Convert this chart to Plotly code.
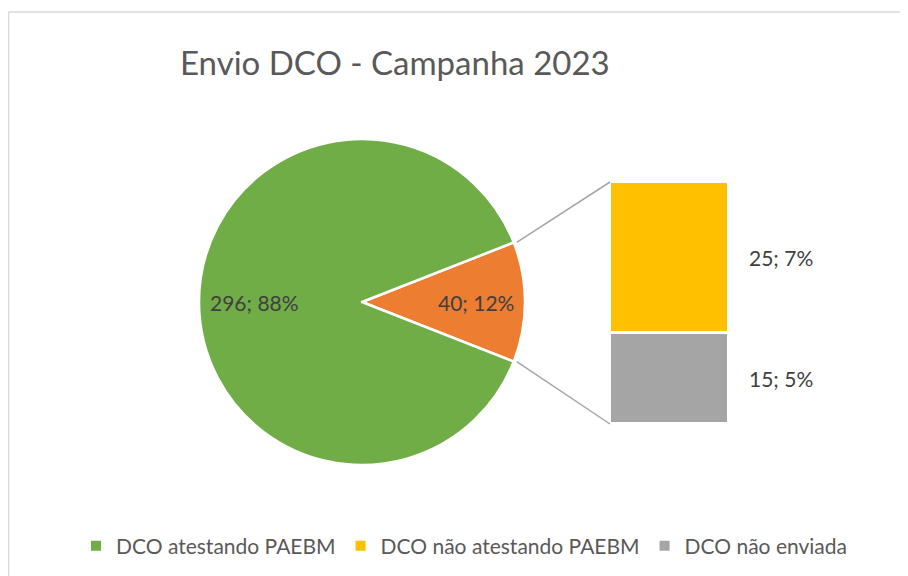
import math
import plotly.graph_objects as go

# ---- data ----
title_text = "Envio DCO - Campanha 2023"
pie_labels = ["DCO atestando PAEBM", "DCO não atestando PAEBM (total)"]
pie_values = [296, 40]
pie_pct_labels = ["88%", "12%"]
pie_colors = ["#70AD47", "#ED7D31"]

bar_labels = ["DCO não enviada", "DCO não atestando PAEBM"]   # bottom to top
bar_values = [15, 25]
bar_pct_labels = ["5%", "7%"]
bar_colors = ["#A5A5A5", "#FFC000"]

legend_labels = ["DCO atestando PAEBM", "DCO não atestando PAEBM", "DCO não enviada"]
legend_colors = ["#70AD47", "#FFC000", "#A5A5A5"]

# page has an 8px body margin: figure is drawn at (8, 8)
OFF = 8
W, H = 900, 568
FONT = "Lato, 'Open Sans', sans-serif"


def PX(x):
    return (x - OFF) / W


def PY(y):
    return 1 - (y - OFF) / H


total = sum(pie_values)

# pie geometry (screen pixels)
cx, cy, R = 362, 302, 163
pie_dom_x = [PX(cx - R), PX(cx + R)]
pie_dom_y = [PY(cy + R), PY(cy - R)]

# bar geometry (screen pixels)
bx0, bx1, by_top, by_bot = 610, 729, 182, 424
bar_dom_x = [PX(bx0), PX(bx1)]
bar_dom_y = [PY(by_bot), PY(by_top)]

small_frac = pie_values[1] / total
half_ang = 360 * small_frac / 2  # degrees

fig = go.Figure()

# pie: small slice first, clockwise, centred at 3 o'clock
fig.add_trace(go.Pie(
    labels=pie_labels[::-1], values=pie_values[::-1],
    marker=dict(colors=pie_colors[::-1], line=dict(color="white", width=2.5)),
    sort=False, direction="clockwise", rotation=90 - half_ang,
    textinfo="none", hoverinfo="label+value+percent",
    domain=dict(x=pie_dom_x, y=pie_dom_y), showlegend=False,
))

# stacked bar of the small slice
for lab, val, col in zip(bar_labels, bar_values, bar_colors):
    fig.add_trace(go.Bar(
        x=["x"], y=[val], name=lab, marker=dict(color=col, line=dict(color="white", width=3)),
        width=1, showlegend=False, hoverinfo="name+y",
    ))

# legend entries
for lab, col in zip(legend_labels, legend_colors):
    fig.add_trace(go.Scatter(
        x=[None], y=[None], mode="markers", name=lab,
        marker=dict(symbol="square", size=10, color=col), showlegend=True,
    ))

fig.update_layout(
    barmode="stack", bargap=0,
    width=W, height=H, margin=dict(l=0, r=0, t=0, b=0),
    paper_bgcolor="white", plot_bgcolor="rgba(0,0,0,0)",
    xaxis=dict(domain=bar_dom_x, range=[-0.5, 0.5], visible=False, fixedrange=True),
    yaxis=dict(domain=bar_dom_y, range=[0, sum(bar_values)], visible=False, fixedrange=True),
    showlegend=True,
    legend=dict(orientation="h", x=PX(464), xanchor="center", y=PY(546), yanchor="middle",
                font=dict(family=FONT, size=21, color="#595959"), itemwidth=30,
                traceorder="normal", bgcolor="rgba(0,0,0,0)"),
    font=dict(family=FONT, color="#404040"),
)

# title
fig.add_annotation(text=title_text, xref="paper", yref="paper", x=PX(395), y=PY(62),
                   xanchor="center", yanchor="middle", showarrow=False,
                   font=dict(family=FONT, size=33, color="#595959"))

# pie labels: big slice centred at 9 o'clock, small at 3 o'clock
fig.add_annotation(text=f"{pie_values[0]}; {pie_pct_labels[0]}", xref="paper", yref="paper",
                   x=PX(cx - 0.66 * R), y=PY(cy), xanchor="center", yanchor="middle",
                   showarrow=False, font=dict(family=FONT, size=21, color="#404040"))
fig.add_annotation(text=f"{pie_values[1]}; {pie_pct_labels[1]}", xref="paper", yref="paper",
                   x=PX(cx + 0.70 * R), y=PY(cy), xanchor="center", yanchor="middle",
                   showarrow=False, font=dict(family=FONT, size=21, color="#404040"))

# bar labels
cum = 0
for val, p in zip(bar_values, bar_pct_labels):
    fig.add_annotation(text=f"{val}; {p}", x=0.5, y=cum + val / 2, xref="x", yref="y",
                       xanchor="left", yanchor="middle", xshift=18, showarrow=False,
                       font=dict(family=FONT, size=21, color="#404040"))
    cum += val

# connector lines from small slice edges to bar corners
a = math.radians(half_ang)
ex = cx + R * math.cos(a)
ey_top = cy - R * math.sin(a)
ey_bot = cy + R * math.sin(a)
for ey, by in [(ey_top, by_top), (ey_bot, by_bot)]:
    fig.add_shape(type="line", xref="paper", yref="paper",
                  x0=PX(ex + 3), y0=PY(ey), x1=PX(bx0), y1=PY(by),
                  line=dict(color="#A6A6A6", width=1.5))

# chart frame (left and top edges visible)
fig.add_shape(type="line", xref="paper", yref="paper", x0=PX(8.5), y0=0, x1=PX(8.5), y1=PY(12),
              line=dict(color="#D9D9D9", width=1.5))
fig.add_shape(type="line", xref="paper", yref="paper", x0=PX(8.5), y0=PY(12), x1=1, y1=PY(12),
              line=dict(color="#D9D9D9", width=1.5))

fig.write_html("out.html")
